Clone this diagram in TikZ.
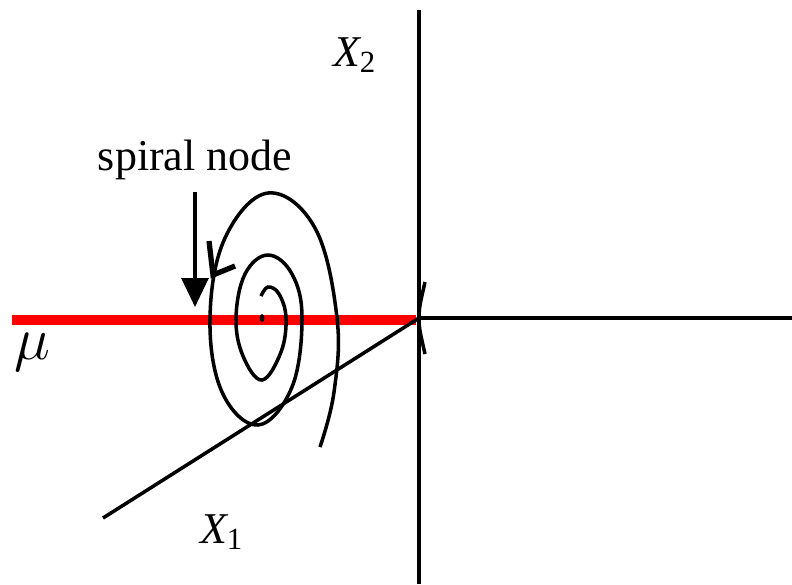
\documentclass[tikz,border=0pt]{standalone}
\usepackage{fontspec}
\setmainfont{Liberation Serif}
\usetikzlibrary{arrows.meta,positioning}
\tikzset{
  ax/.style      = {line width=1pt},
  axh/.style     = {line width=1.4pt},
  redax/.style   = {draw=red, line width=3pt},
  traj/.style    = {line width=1pt},
  head/.style    = {line width=1.5pt},
  pointer/.style = {line width=0.9pt, -{Triangle[width=7.6pt, length=8.2pt]}},
  lbl/.style     = {font=\fontsize{12.5pt}{14pt}\selectfont},
  axlbl/.style   = {font=\fontsize{12.5pt}{14pt}\selectfont\itshape},
}
\begin{document}
\begin{tikzpicture}[x=0.01cm, y=-0.01cm]
  \useasboundingbox (0,0) rectangle (792,584);
  % axes
  \coordinate (O) at (419,318);
  \coordinate (x2top) at (419,10);
  \coordinate (x2bot) at (419,584);
  \coordinate (xend) at (792,318);
  \coordinate (x1end) at (103,518);
  \coordinate (muend) at (12,320);
  \draw[redax] (muend) -- (416,320);
  \draw[ax] (x2bot) -- (x2top);
  \draw[axh] (O) -- (xend);
  \draw[ax] (O) -- (x1end);
  % little curve at the origin
  \draw[traj] plot[smooth] coordinates {(425,282) (420,305) (419,318) (420,331) (425,354)};
  % the spiral
  \fill (262,318) ellipse (2.4 and 4);
  \draw[traj] plot[smooth, tension=0.65] coordinates {
    (261,296) (268,287) (279,294) (286,318) (281,352) (262,380) (243,356) (236,318)
    (245,274) (268,255) (292,274) (302,318) (292,387) (258,425) (222,392) (210,318)
    (225,238) (268,193) (315,228) (337,318) (334,392) (320,447)};
  \draw[head] (209,241) -- (213,275) -- (235,266);
  % labels
  \node[lbl, anchor=base] (lab) at (195,170) {spiral node};
  \coordinate (tip) at (193,307);
  \draw[pointer] (lab.south) -- (lab.south |- tip);
  \node[axlbl] (x2) at (355,55) {X\textsubscript{\upshape 2}};
  \node[axlbl] (x1) at (222,532) {X\textsubscript{\upshape 1}};
  \node[font=\fontsize{17pt}{19pt}\selectfont] (mu) at (32,352) {$\mu$};
\end{tikzpicture}
\end{document}
